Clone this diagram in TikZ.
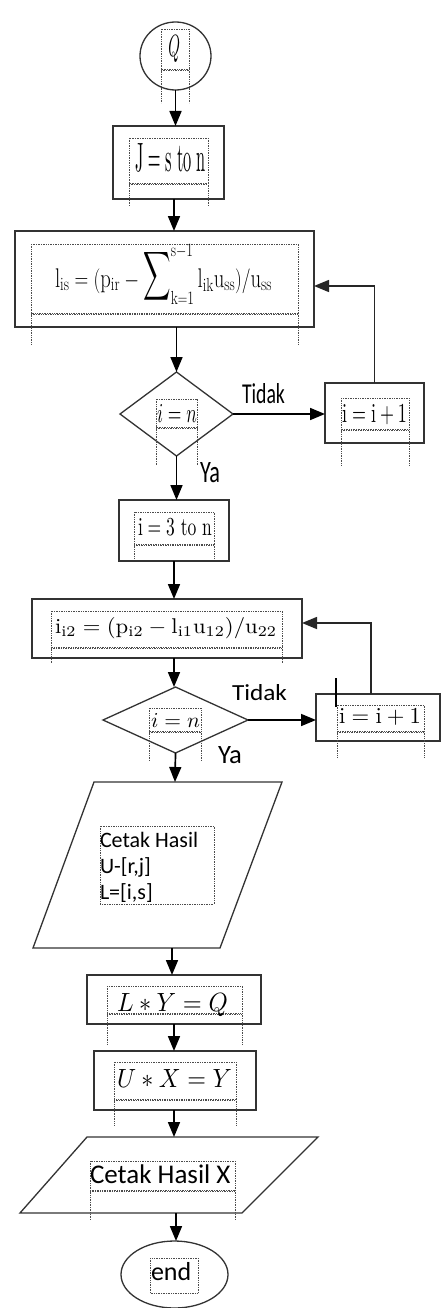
\documentclass[tikz,border=0pt]{standalone}
\usepackage{fontspec}
\usepackage{amsmath}
\usepackage{graphicx}
\newfontfamily\calib{Carlito}
\usetikzlibrary{shapes.geometric,arrows.meta}
\tikzset{
  shp/.style={draw=black!80, line width=1.3pt, inner sep=0pt, outer sep=0pt},
  boxs/.style={shp, rectangle},
  arr/.style={draw=black, line width=1.7pt, -{Triangle[length=15pt,width=12pt]}},
  lne/.style={draw=black!85, line width=1.5pt},
  tfr/.style={draw=black!70, densely dotted, line width=0.7pt},
  tfrb/.style={draw=black!70, densely dotted, line width=1.4pt},
  txt/.style={inner sep=0pt, outer sep=0pt, text=black},
}
\newcommand\tfr[5]{%
  \draw[tfr] (#1,#2) rectangle (#3,#4);
  \draw[tfrb] (#1,#4+1.5) -- (#3,#4+1.5);
  \draw[tfr] (#1,#4) -- (#1,#5) (#3,#4) -- (#3,#5);}
\newcommand\tfrs[4]{%
  \draw[tfr] (#1,#2) rectangle (#3,#4);}
\newcommand\bigsig{\mathop{\raisebox{4pt}{$\vcenter{\hbox{\scalebox{1}[1.37]{$\displaystyle\sum$}}}$}}}
\begin{document}
\begin{tikzpicture}[x=1pt,y=-1pt]
\useasboundingbox[fill=white] (0,0) rectangle (441,1308);
\coordinate (axis) at (174,0);
% shapes
\node[shp, ellipse, minimum width=71pt, minimum height=68pt] (Q) at (175.5,56) {};
\node[boxs, minimum width=111pt, minimum height=73pt] (J) at (168.5,162.5) {};
\node[boxs, minimum width=299pt, minimum height=96pt] (B2) at (164.5,279) {};
\node[shp, diamond, minimum width=113pt, minimum height=84pt] (D1) at (176.5,414) {};
\node[boxs, minimum width=99pt, minimum height=60pt] (I1) at (374.5,413) {};
\node[boxs, minimum width=110pt, minimum height=61pt] (B3) at (174,530.5) {};
\node[boxs, minimum width=270pt, minimum height=59pt] (B4) at (167,628.5) {};
\node[shp, diamond, minimum width=145pt, minimum height=66pt] (D2) at (175.5,720) {};
\node[boxs, minimum width=124pt, minimum height=47pt] (I2) at (378,717.5) {};
\draw[shp] (94,782) -- (282,782) -- (220,948) -- (33,948) -- cycle;
\coordinate (P1t) at (175,782);
\coordinate (P1b) at (172,948);
\node[boxs, minimum width=174pt, minimum height=49pt] (B5) at (174,999.5) {};
\node[boxs, minimum width=162pt, minimum height=59pt] (B6) at (175,1080.5) {};
\draw[shp] (87,1137) -- (318,1137) -- (242,1213) -- (20,1213) -- cycle;
\coordinate (P2t) at (174,1137);
\coordinate (P2b) at (176,1213);
\node[shp, ellipse, minimum width=107pt, minimum height=67pt] (E) at (174.5,1274.5) {};
% text frames (dotted)
\tfr{161}{29}{189}{69}{103}
\tfr{129}{138}{208}{183}{206}
\tfr{31}{244}{298}{313}{345}
\tfr{156}{399}{197}{427}{466}
\tfr{341}{398}{409}{429}{465}
\tfr{134}{512}{214}{544}{559}
\tfr{51}{611}{282}{647}{664}
\tfr{149}{708}{201}{731}{761}
\tfr{337}{705}{424}{731}{757}
\tfrs{100}{826}{214}{904}
\tfr{107}{986}{242}{1013}{1045}
\tfr{114}{1062}{236}{1099}{1125}
\tfr{90}{1161}{235}{1190}{1220}
\tfrs{150}{1258}{198}{1293}
% texts
\node[txt, anchor=base west] (tQ) at (168.3,57) {\resizebox{11.7pt}{21pt}{$Q$}};
\node[txt, anchor=base west] (tJ) at (135,171.7) {\resizebox{71pt}{28pt}{$\mathrm{J}=\mathrm{s\ to\ n}$}};
\node[txt, anchor=base west] (tB2) at (55,287) {\resizebox{217pt}{\height}{\fontsize{27}{27}\selectfont$\mathrm{l}_{\mathrm{is}}=(\mathrm{p}_{\mathrm{ir}}-\bigsig\nolimits_{\mathrm{k=1}}^{\mathrm{s-1}}\mathrm{l}_{\mathrm{ik}}\mathrm{u}_{\mathrm{ss}})/\mathrm{u}_{\mathrm{ss}}$}};
\node[txt, anchor=base west] (tD1) at (157,422) {\resizebox{40pt}{18pt}{$i=n$}};
\node[txt, anchor=base west] (tI1) at (342,422) {\resizebox{65pt}{18pt}{$\mathrm{i}=\mathrm{i}+1$}};
\node[txt, anchor=base west] (tB3) at (138,535) {\resizebox{74pt}{17pt}{$\mathrm{i}=3\ \mathrm{to\ n}$}};
\node[txt, anchor=base west] (tB4) at (55,633) {\resizebox{222pt}{16pt}{$\mathrm{i}_{\mathrm{i}2}=(\mathrm{p}_{\mathrm{i}2}-\mathrm{l}_{\mathrm{i}1}\mathrm{u}_{12})/\mathrm{u}_{22}$}};
\node[txt, anchor=base west] (tD2) at (151,727) {\resizebox{49pt}{14pt}{$i=n$}};
\node[txt, anchor=base west] (tI2) at (339,723) {\resizebox{82pt}{15pt}{$\mathrm{i}=\mathrm{i}+1$}};
\node[txt, anchor=base west] (tP1) at (100,847) {\calib\fontsize{22}{26}\selectfont\vtop{\hbox{Cetak Hasil}\hbox{U-[r,j]}\hbox{L=[i,s]}}};
\node[txt, anchor=base west] (tB5) at (117,1011) {\resizebox{111pt}{18pt}{$L\ast Y=Q$}};
\node[txt, anchor=base west] (tB6) at (117,1087) {\resizebox{115pt}{18pt}{$U\ast X=Y$}};
\node[txt, anchor=base west] (tP2) at (90,1183) {\calib\fontsize{27}{30}\selectfont Cetak Hasil X};
\node[txt, anchor=base west] (tE) at (151,1280) {\calib\fontsize{26}{30}\selectfont end};
\node[txt, anchor=base west] (lT1) at (242,403) {\resizebox{43pt}{20pt}{\calib Tidak}};
\node[txt, anchor=base west] (lY1) at (200,482) {\resizebox{20pt}{20pt}{\calib Ya}};
\node[txt, anchor=base west] (lT2) at (232,700) {\resizebox{55pt}{16pt}{\calib Tidak}};
\node[txt, anchor=base west] (lY2) at (218,763) {\resizebox{24pt}{17pt}{\calib Ya}};
% connectors
\draw[arr] (Q.south) -- (Q.south |- J.north);
\draw[arr] (J.south -| axis) -- (B2.north -| axis);
\draw[arr] (B2.south -| D1.north) -- (D1.north);
\draw[arr] (D1.south) -- (D1.south |- B3.north);
\draw[arr] (D1.east) -- (D1.east -| I1.west);
\draw[lne, -{Triangle[length=15pt,width=12pt]}] (I1.north) |- ([yshift=-7pt]B2.east);
\draw[arr] (B3.south -| axis) -- (B4.north -| axis);
\draw[arr] (B4.south -| axis) -- (D2.north -| axis);
\draw[arr] (D2.east) -- (D2.east -| I2.west);
\draw[lne, -{Triangle[length=15pt,width=12pt]}] ([xshift=-7pt]I2.north) |- ([yshift=5.5pt]B4.east);
\draw[arr] (D2.south) -- (P1t);
\draw[arr] (P1b) -- (P1b |- B5.north);
\draw[arr] (B5.south -| axis) -- (B6.north -| axis);
\draw[arr] (B6.south -| axis) -- (P2t);
\draw[arr] (P2b) -- (P2b |- E.north);
% stray mark
\draw[black, line width=1.6pt] (336,678) -- (336,707);
\end{tikzpicture}
\end{document}
